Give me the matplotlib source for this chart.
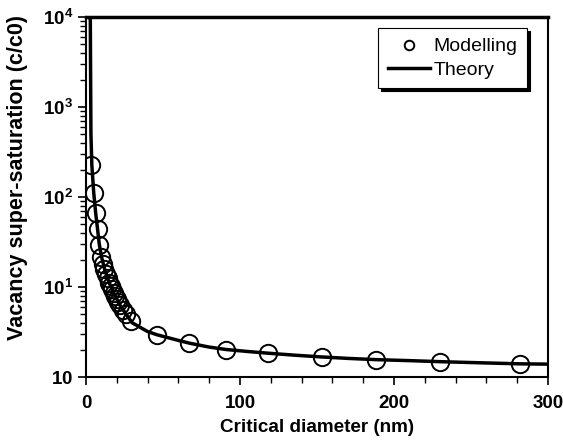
import matplotlib
matplotlib.use("Agg")
import matplotlib.pyplot as plt
from matplotlib.ticker import FixedLocator, LogLocator, MultipleLocator, NullFormatter

plt.rcParams['font.family'] = ['Liberation Sans', 'DejaVu Sans']
plt.rcParams['mathtext.fontset'] = 'custom'
plt.rcParams['mathtext.rm'] = 'Liberation Sans'
plt.rcParams['mathtext.bf'] = 'Liberation Sans:bold'

# Modelling (circles)
model_d = [3.3, 5.0, 6.3, 7.5, 8.6, 9.7, 11, 12, 13, 14, 15, 16, 17, 18, 19, 20, 21, 22,
           24, 26, 29, 46, 67, 91, 118, 153, 188, 230, 282]
model_v = [225, 112, 66, 44, 29, 21.6, 18, 16, 14, 12.5, 11.2, 10.2, 9.4, 8.6, 8.0, 7.3, 6.8, 6.3,
           5.6, 5.0, 4.2, 2.9, 2.38, 2.0, 1.84, 1.67, 1.56, 1.48, 1.40]

# Theory (line)
theory_d = [1.5, 2.8, 3.2, 3.8, 5.0, 6.3, 7.5, 8.6, 10, 12, 15, 18, 22, 26, 30, 40, 46,
            60, 67, 80, 91, 105, 118, 135, 153, 170, 188, 210, 230, 255, 282, 300]
theory_v = [15000, 9000, 500, 225, 112, 66, 44, 30, 22, 16, 11.2, 8.6, 6.3, 5.0, 4.0, 3.2, 2.95,
            2.55, 2.38, 2.15, 2.02, 1.92, 1.84, 1.75, 1.67, 1.61, 1.56, 1.52, 1.48, 1.44, 1.40, 1.39]

ytick_vals = [1, 10, 100, 1000, 10000]
ytick_labels = [r'$\mathbf{10}$', r'$\mathbf{10^{1}}$', r'$\mathbf{10^{2}}$',
                r'$\mathbf{10^{3}}$', r'$\mathbf{10^{4}}$']
xtick_vals = [0, 100, 200, 300]

fig = plt.figure(figsize=(5.63, 4.40), dpi=100)
ax = fig.add_axes([86/563, (440-377)/440, (548-86)/563, (377-17)/440])

ax.plot(theory_d, theory_v, color='black', lw=2.5, label='Theory', zorder=2)
ax.plot(model_d, model_v, linestyle='none', marker='o', markersize=12.5, markerfacecolor='none',
        markeredgecolor='black', markeredgewidth=1.4, label='Modelling', zorder=3)

ax.set_yscale('log')
ax.set_xlim(0, 300)
ax.set_ylim(1, 10000)
ax.yaxis.set_major_locator(FixedLocator(ytick_vals))
ax.set_yticklabels(ytick_labels)
ax.yaxis.set_minor_locator(LogLocator(base=10, subs=range(2, 10)))
ax.yaxis.set_minor_formatter(NullFormatter())
ax.set_xticks(xtick_vals)
ax.set_xticklabels([str(v) for v in xtick_vals], fontweight='bold')
ax.xaxis.set_minor_locator(MultipleLocator(20))

ax.tick_params(axis='both', which='major', direction='out', length=6, width=1.2, labelsize=13.5)
ax.tick_params(axis='x', which='major', pad=7)
ax.tick_params(axis='both', which='minor', direction='out', length=4, width=1.0)
for s in ax.spines.values():
    s.set_linewidth(1.5)
ax.spines['top'].set_linewidth(2.5)

ax.set_xlabel('Critical diameter (nm)', fontsize=13.6, fontweight='bold')
ax.xaxis.set_label_coords(0.5, (377-419)/360)
ax.set_ylabel('Vacancy super-saturation (c/c0)', fontsize=15.5, fontweight='bold')
ax.yaxis.set_label_coords((28-86)/462, (377-177)/360)

handles, labels = ax.get_legend_handles_labels()
leg = ax.legend(handles[::-1], labels[::-1], loc='upper right',
                bbox_to_anchor=((527-86)/462, (377-28)/360), borderaxespad=0,
                fontsize=14, frameon=True, fancybox=False, markerscale=0.55,
                shadow={'color': 'black', 'alpha': 1}, handlelength=2.2, borderpad=0.5,
                labelspacing=0.3, handletextpad=0.15)
leg.get_frame().set_edgecolor('black')
leg.get_frame().set_linewidth(0.8)

fig.savefig('out.png', dpi=100)
